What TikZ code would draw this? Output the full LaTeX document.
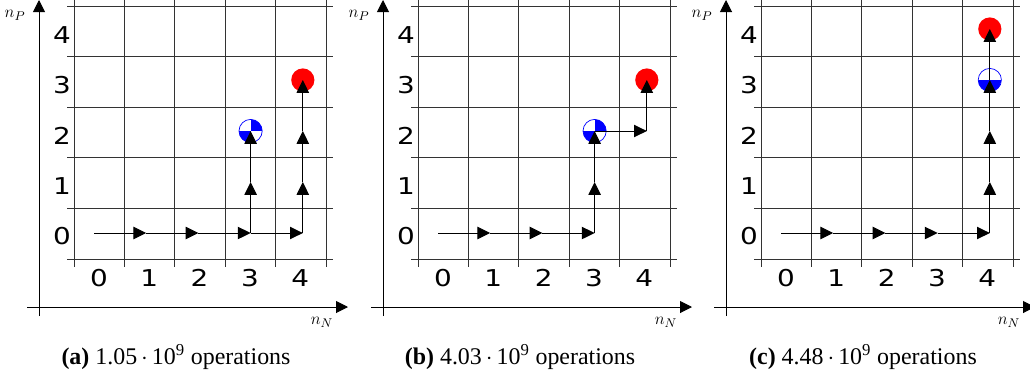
\documentclass[tikz,border=0pt]{standalone}
\usepackage{fontspec}
\setmainfont{Liberation Serif}
\newfontfamily\labelfont[FakeStretch=1.2]{DejaVu Sans}
\usetikzlibrary{arrows.meta}

\begin{document}
\begin{tikzpicture}[
    x=0.025cm, y=-0.025cm,
    gridline/.style={draw=black!80, line width=0.6pt},
    axis/.style={-{Triangle[length=3mm, width=3mm]}, line width=0.7pt},
    hop/.style={-{Triangle[length=3.2mm, width=3.1mm]}, line width=0.7pt},
    tick/.style={font=\labelfont\fontsize{16.5}{19}\selectfont, inner sep=0pt},
    axlabel/.style={font=\fontsize{13}{15}\selectfont, inner sep=0pt},
    caption/.style={font=\fontsize{17}{20}\selectfont, inner sep=0pt},
    goal/.style={circle, fill=red, minimum size=5.8mm, inner sep=0pt},
    com/.style={circle, draw=blue, fill=white, line width=0.5pt, minimum size=5.8mm, inner sep=0pt,
        path picture={
            \fill[blue] (path picture bounding box.center) rectangle (path picture bounding box.north east);
            \fill[blue] (path picture bounding box.center) rectangle (path picture bounding box.south west);}},
    comhalf/.style={circle, draw=blue, fill=white, line width=0.5pt, minimum size=5.8mm, inner sep=0pt,
        path picture={
            \fill[blue] (path picture bounding box.west) rectangle (path picture bounding box.south east);}}
]
\useasboundingbox (0,0) rectangle (1030,376);

% Three panels: grid, axes, tick labels, caption
\foreach \p/\ox/\cap in {a/0/{1.05},b/344/{4.03},c/687/{4.48}} {
\begin{scope}[xshift=\ox*0.025cm]
    \foreach \k in {0,...,5} {
        \draw[gridline] ({74+50.4*\k},0) -- ({74+50.4*\k},267);
        \draw[gridline] (67,{6+50.6*\k}) -- (333,{6+50.6*\k});
    }
    % axes
    \coordinate (\p-ybot) at (39,316);
    \coordinate (\p-ytop) at (39,0);
    \coordinate (\p-xleft) at (27,307);
    \coordinate (\p-xright) at (348,307);
    \draw[axis] (\p-ybot) -- (\p-ytop);
    \draw[axis] (\p-xleft) -- (\p-xright);
    \node[axlabel] (\p-np) at (15,15) {$n_P$};
    \node[axlabel] (\p-nn) at (322,322) {$n_N$};
    % tick labels
    \foreach \i in {0,...,4} {
        \node[tick] (\p-xl-\i) at ({99+50.3*\i},278) {\i};
        \node[tick] (\p-yl-\i) at (62,{236-50.3*\i}) {\i};
    }
    % lattice points
    \foreach \i in {0,...,4} {
        \foreach \j in {0,...,4} {
            \coordinate (\p-\i-\j) at ({94+52.2*\i},{233-51*\j});
        }
    }
    \node[caption] (\p-cap) at (176,357) {\textbf{(\p)} \cap\,$\cdot$\,10\textsuperscript{9} operations};
\end{scope}
}

% Markers
\node[com] (a-com) at (a-3-2) {};
\node[goal] (a-goal) at (a-4-3) {};
\node[com] (b-com) at (b-3-2) {};
\node[goal] (b-goal) at (b-4-3) {};
\node[comhalf] (c-com) at (c-4-3) {};
\node[goal] (c-goal) at (c-4-4) {};

% Paths
\foreach \s/\t in {0-0/1-0, 1-0/2-0, 2-0/3-0, 3-0/4-0, 3-0/3-1, 3-1/3-2, 4-0/4-1, 4-1/4-2, 4-2/4-3}
    \draw[hop] (a-\s) -- (a-\t);
\foreach \s/\t in {0-0/1-0, 1-0/2-0, 2-0/3-0, 3-0/3-1, 3-1/3-2, 3-2/4-2, 4-2/4-3}
    \draw[hop] (b-\s) -- (b-\t);
\foreach \s/\t in {0-0/1-0, 1-0/2-0, 2-0/3-0, 3-0/4-0, 4-0/4-1, 4-1/4-2, 4-2/4-3, 4-3/4-4}
    \draw[hop] (c-\s) -- (c-\t);

\end{tikzpicture}
\end{document}
